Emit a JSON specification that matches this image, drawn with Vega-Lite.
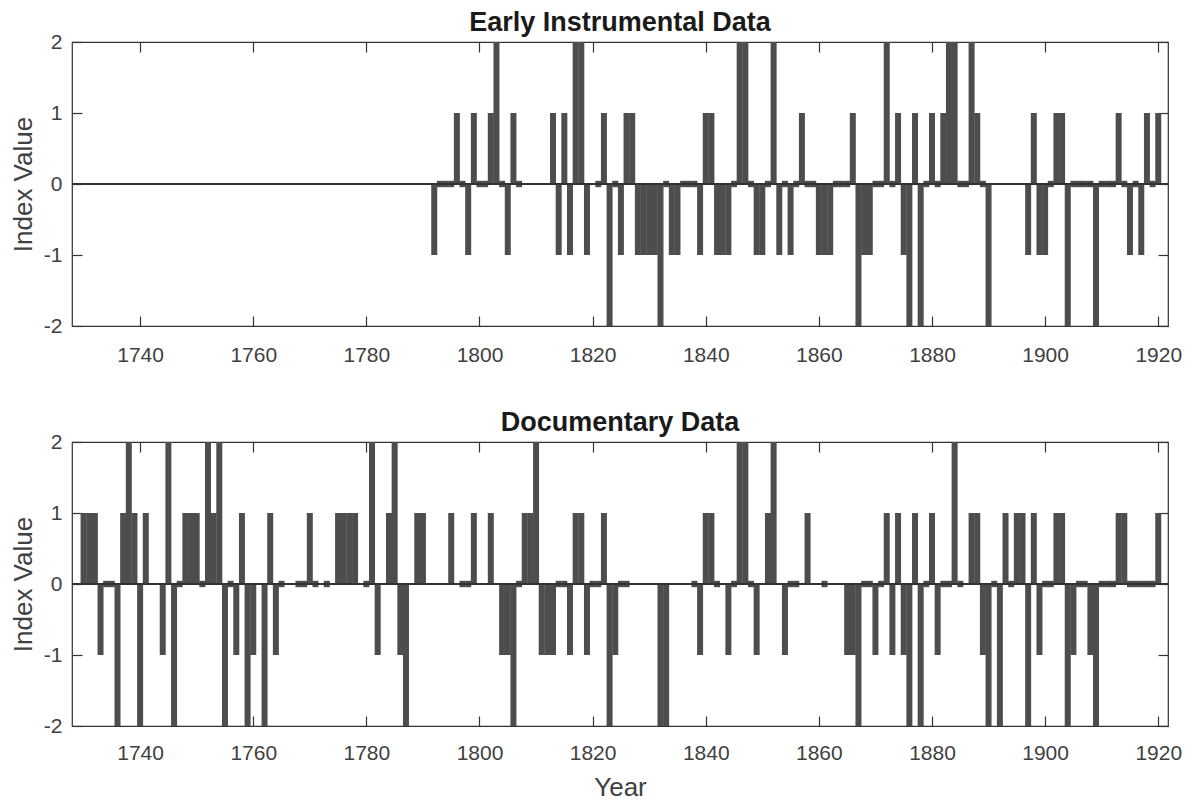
{
  "$schema": "https://vega.github.io/schema/vega-lite/v6.json",
  "background": "white",
  "padding": {"left": 9, "top": 8, "right": 20, "bottom": 0},
  "config": {
    "view": {"stroke": "#333333", "strokeWidth": 1.2},
    "font": "Liberation Sans",
    "axis": {
      "grid": false,
      "domain": false,
      "labelFont": "Liberation Sans",
      "labelFontSize": 21,
      "labelColor": "#404040",
      "titleFont": "Liberation Sans",
      "titleFontSize": 26,
      "titleFontWeight": "normal",
      "titleColor": "#404040",
      "tickColor": "#333333",
      "tickSize": -10,
      "tickWidth": 1.2
    },
    "title": {"font": "Liberation Sans", "fontSize": 27, "fontWeight": "bold", "color": "#1a1a1a", "offset": -6}
  },
  "datasets": {
    "instrumental": [
      {"year": 1792, "value": -1}, {"year": 1793, "value": 0}, {"year": 1794, "value": 0}, {"year": 1795, "value": 0},
      {"year": 1796, "value": 1}, {"year": 1797, "value": 0}, {"year": 1798, "value": -1}, {"year": 1799, "value": 1},
      {"year": 1800, "value": 0}, {"year": 1801, "value": 0}, {"year": 1802, "value": 1}, {"year": 1803, "value": 2},
      {"year": 1804, "value": 0}, {"year": 1805, "value": -1}, {"year": 1806, "value": 1}, {"year": 1807, "value": 0},
      {"year": 1813, "value": 1}, {"year": 1814, "value": -1}, {"year": 1815, "value": 1}, {"year": 1816, "value": -1},
      {"year": 1817, "value": 2}, {"year": 1818, "value": 2}, {"year": 1819, "value": -1}, {"year": 1821, "value": 0},
      {"year": 1822, "value": 1}, {"year": 1823, "value": -2}, {"year": 1824, "value": 0}, {"year": 1825, "value": -1},
      {"year": 1826, "value": 1}, {"year": 1827, "value": 1}, {"year": 1828, "value": -1}, {"year": 1829, "value": -1},
      {"year": 1830, "value": -1}, {"year": 1831, "value": -1}, {"year": 1832, "value": -2}, {"year": 1833, "value": 0},
      {"year": 1834, "value": -1}, {"year": 1835, "value": -1}, {"year": 1836, "value": 0}, {"year": 1837, "value": 0},
      {"year": 1838, "value": 0}, {"year": 1839, "value": -1}, {"year": 1840, "value": 1}, {"year": 1841, "value": 1},
      {"year": 1842, "value": -1}, {"year": 1843, "value": -1}, {"year": 1844, "value": -1}, {"year": 1845, "value": 0},
      {"year": 1846, "value": 2}, {"year": 1847, "value": 2}, {"year": 1848, "value": 0}, {"year": 1849, "value": -1},
      {"year": 1850, "value": -1}, {"year": 1851, "value": 0}, {"year": 1852, "value": 2}, {"year": 1853, "value": -1},
      {"year": 1854, "value": 0}, {"year": 1855, "value": -1}, {"year": 1856, "value": 0}, {"year": 1857, "value": 1},
      {"year": 1858, "value": 0}, {"year": 1859, "value": 0}, {"year": 1860, "value": -1}, {"year": 1861, "value": -1},
      {"year": 1862, "value": -1}, {"year": 1863, "value": 0}, {"year": 1864, "value": 0}, {"year": 1865, "value": 0},
      {"year": 1866, "value": 1}, {"year": 1867, "value": -2}, {"year": 1868, "value": -1}, {"year": 1869, "value": -1},
      {"year": 1870, "value": 0}, {"year": 1871, "value": 0}, {"year": 1872, "value": 2}, {"year": 1873, "value": 0},
      {"year": 1874, "value": 1}, {"year": 1875, "value": -1}, {"year": 1876, "value": -2}, {"year": 1877, "value": 1},
      {"year": 1878, "value": -2}, {"year": 1879, "value": 0}, {"year": 1880, "value": 1}, {"year": 1881, "value": 0},
      {"year": 1882, "value": 1}, {"year": 1883, "value": 2}, {"year": 1884, "value": 2}, {"year": 1885, "value": 0},
      {"year": 1886, "value": 0}, {"year": 1887, "value": 2}, {"year": 1888, "value": 1}, {"year": 1889, "value": 0},
      {"year": 1890, "value": -2}, {"year": 1897, "value": -1}, {"year": 1898, "value": 1}, {"year": 1899, "value": -1},
      {"year": 1900, "value": -1}, {"year": 1901, "value": 0}, {"year": 1902, "value": 1}, {"year": 1903, "value": 1},
      {"year": 1904, "value": -2}, {"year": 1905, "value": 0}, {"year": 1906, "value": 0}, {"year": 1907, "value": 0},
      {"year": 1908, "value": 0}, {"year": 1909, "value": -2}, {"year": 1910, "value": 0}, {"year": 1911, "value": 0},
      {"year": 1912, "value": 0}, {"year": 1913, "value": 1}, {"year": 1914, "value": 0}, {"year": 1915, "value": -1},
      {"year": 1916, "value": 0}, {"year": 1917, "value": -1}, {"year": 1918, "value": 1}, {"year": 1919, "value": 0},
      {"year": 1920, "value": 1}
    ],
    "documentary": [
      {"year": 1730, "value": 1}, {"year": 1731, "value": 1}, {"year": 1732, "value": 1}, {"year": 1733, "value": -1},
      {"year": 1734, "value": 0}, {"year": 1735, "value": 0}, {"year": 1736, "value": -2}, {"year": 1737, "value": 1},
      {"year": 1738, "value": 2}, {"year": 1739, "value": 1}, {"year": 1740, "value": -2}, {"year": 1741, "value": 1},
      {"year": 1744, "value": -1}, {"year": 1745, "value": 2}, {"year": 1746, "value": -2}, {"year": 1747, "value": 0},
      {"year": 1748, "value": 1}, {"year": 1749, "value": 1}, {"year": 1750, "value": 1}, {"year": 1751, "value": 0},
      {"year": 1752, "value": 2}, {"year": 1753, "value": 1}, {"year": 1754, "value": 2}, {"year": 1755, "value": -2},
      {"year": 1756, "value": 0}, {"year": 1757, "value": -1}, {"year": 1758, "value": 1}, {"year": 1759, "value": -2},
      {"year": 1760, "value": -1}, {"year": 1762, "value": -2}, {"year": 1763, "value": 1}, {"year": 1764, "value": -1},
      {"year": 1765, "value": 0}, {"year": 1768, "value": 0}, {"year": 1769, "value": 0}, {"year": 1770, "value": 1},
      {"year": 1771, "value": 0}, {"year": 1773, "value": 0}, {"year": 1775, "value": 1}, {"year": 1776, "value": 1},
      {"year": 1777, "value": 1}, {"year": 1778, "value": 1}, {"year": 1780, "value": 0}, {"year": 1781, "value": 2},
      {"year": 1782, "value": -1}, {"year": 1784, "value": 1}, {"year": 1785, "value": 2}, {"year": 1786, "value": -1},
      {"year": 1787, "value": -2}, {"year": 1789, "value": 1}, {"year": 1790, "value": 1}, {"year": 1795, "value": 1},
      {"year": 1797, "value": 0}, {"year": 1798, "value": 0}, {"year": 1799, "value": 1}, {"year": 1802, "value": 1},
      {"year": 1804, "value": -1}, {"year": 1805, "value": -1}, {"year": 1806, "value": -2}, {"year": 1807, "value": 0},
      {"year": 1808, "value": 1}, {"year": 1809, "value": 1}, {"year": 1810, "value": 2}, {"year": 1811, "value": -1},
      {"year": 1812, "value": -1}, {"year": 1813, "value": -1}, {"year": 1814, "value": 0}, {"year": 1815, "value": 0},
      {"year": 1816, "value": -1}, {"year": 1817, "value": 1}, {"year": 1818, "value": 1}, {"year": 1819, "value": -1},
      {"year": 1820, "value": 0}, {"year": 1821, "value": 0}, {"year": 1822, "value": 1}, {"year": 1823, "value": -2},
      {"year": 1824, "value": -1}, {"year": 1825, "value": 0}, {"year": 1826, "value": 0}, {"year": 1832, "value": -2},
      {"year": 1833, "value": -2}, {"year": 1838, "value": 0}, {"year": 1839, "value": -1}, {"year": 1840, "value": 1},
      {"year": 1841, "value": 1}, {"year": 1842, "value": 0}, {"year": 1844, "value": -1}, {"year": 1845, "value": 0},
      {"year": 1846, "value": 2}, {"year": 1847, "value": 2}, {"year": 1848, "value": 0}, {"year": 1849, "value": -1},
      {"year": 1851, "value": 1}, {"year": 1852, "value": 2}, {"year": 1854, "value": -1}, {"year": 1855, "value": 0},
      {"year": 1856, "value": 0}, {"year": 1858, "value": 1}, {"year": 1861, "value": 0}, {"year": 1865, "value": -1},
      {"year": 1866, "value": -1}, {"year": 1867, "value": -2}, {"year": 1868, "value": 0}, {"year": 1869, "value": 0},
      {"year": 1870, "value": -1}, {"year": 1871, "value": 0}, {"year": 1872, "value": 1}, {"year": 1873, "value": -1},
      {"year": 1874, "value": 1}, {"year": 1875, "value": -1}, {"year": 1876, "value": -2}, {"year": 1877, "value": 1},
      {"year": 1878, "value": -2}, {"year": 1879, "value": 0}, {"year": 1880, "value": 1}, {"year": 1881, "value": -1},
      {"year": 1882, "value": 0}, {"year": 1883, "value": 0}, {"year": 1884, "value": 2}, {"year": 1885, "value": 0},
      {"year": 1887, "value": 1}, {"year": 1888, "value": 1}, {"year": 1889, "value": -1}, {"year": 1890, "value": -2},
      {"year": 1891, "value": 0}, {"year": 1892, "value": -2}, {"year": 1893, "value": 1}, {"year": 1894, "value": 0},
      {"year": 1895, "value": 1}, {"year": 1896, "value": 1}, {"year": 1897, "value": -2}, {"year": 1898, "value": 1},
      {"year": 1899, "value": -1}, {"year": 1900, "value": 0}, {"year": 1901, "value": 0}, {"year": 1902, "value": 1},
      {"year": 1903, "value": 1}, {"year": 1904, "value": -2}, {"year": 1905, "value": -1}, {"year": 1906, "value": 0},
      {"year": 1907, "value": 0}, {"year": 1908, "value": -1}, {"year": 1909, "value": -2}, {"year": 1910, "value": 0},
      {"year": 1911, "value": 0}, {"year": 1912, "value": 0}, {"year": 1913, "value": 1}, {"year": 1914, "value": 1},
      {"year": 1915, "value": 0}, {"year": 1916, "value": 0}, {"year": 1917, "value": 0}, {"year": 1918, "value": 0},
      {"year": 1919, "value": 0}, {"year": 1920, "value": 1}
    ]
  },
  "spacing": 116,
  "bounds": "flush",
  "vconcat": [
    {
      "title": {"text": "Early Instrumental Data"},
      "width": 1096,
      "height": 284,
      "data": {"name": "instrumental"},
      "resolve": {"axis": {"x": "independent", "y": "independent"}},
      "layer": [
        {
          "transform": [{"filter": "datum.value != 0"}],
          "mark": {"type": "bar", "width": 6, "color": "#4d4d4d"},
          "encoding": {
            "x": {"field": "year", "type": "quantitative",
                  "scale": {"domain": [1728.84, 1920.84], "nice": false, "zero": false},
                  "axis": {"values": [1740, 1760, 1780, 1800, 1820, 1840, 1860, 1880, 1900, 1920], "format": "d", "title": null, "labelPadding": 28}},
            "y": {"field": "value", "type": "quantitative",
                  "scale": {"domain": [-2, 2], "nice": false},
                  "axis": {"values": [-2, -1, 0, 1, 2], "labelExpr": "toString(datum.value)", "title": "Index Value", "labelPadding": 20, "titlePadding": 7}}
          }
        },
        {
          "transform": [{"filter": "datum.value == 0"}],
          "mark": {"type": "bar", "width": 6, "color": "#4d4d4d"},
          "encoding": {
            "x": {"field": "year", "type": "quantitative", "axis": null},
            "y": {"datum": -0.045, "type": "quantitative", "axis": null},
            "y2": {"datum": 0.045}
          }
        },
        {
          "mark": {"type": "rule", "color": "#333333", "strokeWidth": 1},
          "encoding": {"y": {"datum": 0, "type": "quantitative", "axis": null}}
        },
        {
          "mark": {"type": "point", "opacity": 0},
          "encoding": {
            "x": {"field": "year", "type": "quantitative",
                  "axis": {"orient": "top", "values": [1740, 1760, 1780, 1800, 1820, 1840, 1860, 1880, 1900, 1920], "labels": false, "title": null, "minExtent": 0, "maxExtent": 0}},
            "y": {"field": "value", "type": "quantitative",
                  "axis": {"orient": "right", "values": [-2, -1, 0, 1, 2], "labels": false, "title": null, "minExtent": 0, "maxExtent": 0}}
          }
        }
      ]
    },
    {
      "title": {"text": "Documentary Data"},
      "width": 1096,
      "height": 284,
      "data": {"name": "documentary"},
      "resolve": {"axis": {"x": "independent", "y": "independent"}},
      "layer": [
        {
          "transform": [{"filter": "datum.value != 0"}],
          "mark": {"type": "bar", "width": 6, "color": "#4d4d4d"},
          "encoding": {
            "x": {"field": "year", "type": "quantitative",
                  "scale": {"domain": [1728.84, 1920.84], "nice": false, "zero": false},
                  "axis": {"values": [1740, 1760, 1780, 1800, 1820, 1840, 1860, 1880, 1900, 1920], "format": "d", "title": "Year", "labelPadding": 26, "titlePadding": 11}},
            "y": {"field": "value", "type": "quantitative",
                  "scale": {"domain": [-2, 2], "nice": false},
                  "axis": {"values": [-2, -1, 0, 1, 2], "labelExpr": "toString(datum.value)", "title": "Index Value", "labelPadding": 20, "titlePadding": 7}}
          }
        },
        {
          "transform": [{"filter": "datum.value == 0"}],
          "mark": {"type": "bar", "width": 6, "color": "#4d4d4d"},
          "encoding": {
            "x": {"field": "year", "type": "quantitative", "axis": null},
            "y": {"datum": -0.045, "type": "quantitative", "axis": null},
            "y2": {"datum": 0.045}
          }
        },
        {
          "mark": {"type": "rule", "color": "#333333", "strokeWidth": 1},
          "encoding": {"y": {"datum": 0, "type": "quantitative", "axis": null}}
        },
        {
          "mark": {"type": "point", "opacity": 0},
          "encoding": {
            "x": {"field": "year", "type": "quantitative",
                  "axis": {"orient": "top", "values": [1740, 1760, 1780, 1800, 1820, 1840, 1860, 1880, 1900, 1920], "labels": false, "title": null, "minExtent": 0, "maxExtent": 0}},
            "y": {"field": "value", "type": "quantitative",
                  "axis": {"orient": "right", "values": [-2, -1, 0, 1, 2], "labels": false, "title": null, "minExtent": 0, "maxExtent": 0}}
          }
        }
      ]
    }
  ]
}
